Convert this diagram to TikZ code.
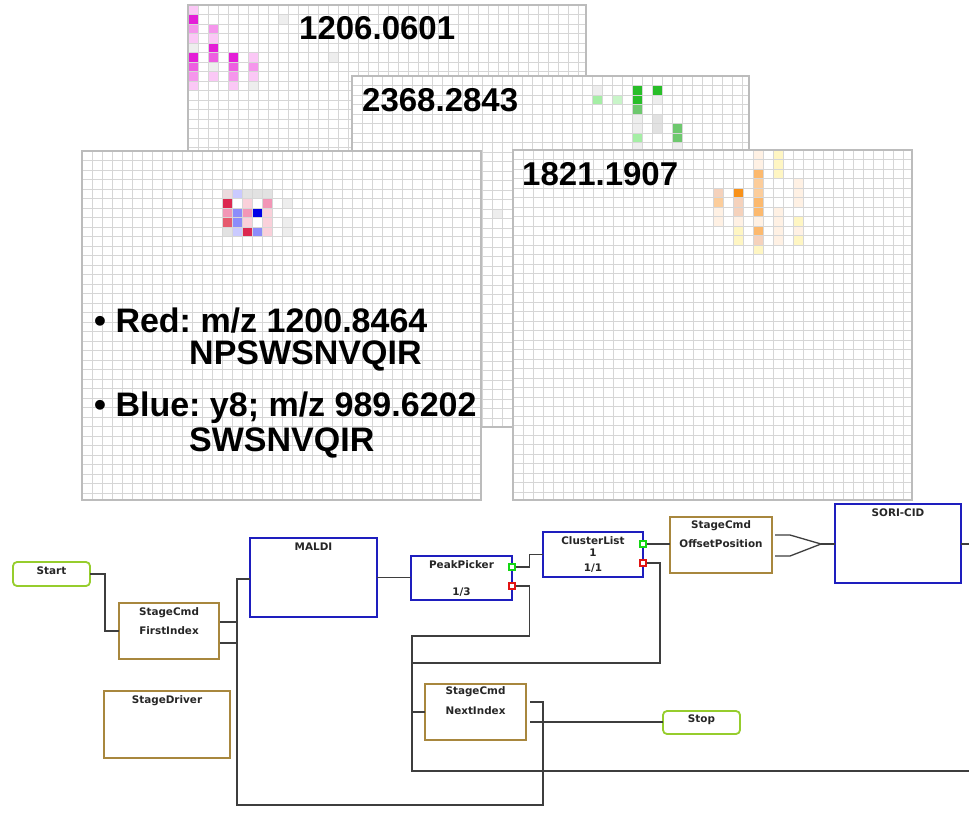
\documentclass[tikz,border=0pt]{standalone}
\usepackage{fontspec}
\setmainfont{Liberation Sans}
\newfontfamily\uifont{DejaVu Sans}
\usetikzlibrary{calc}

\definecolor{gridc}{RGB}{214,214,214}
\definecolor{gridbc}{RGB}{188,188,188}
\definecolor{wirec}{RGB}{62,62,62}
\definecolor{boxblue}{RGB}{30,30,190}
\definecolor{boxtan}{RGB}{168,135,62}
\definecolor{termgreen}{RGB}{150,205,45}
\definecolor{portgreen}{RGB}{20,215,20}
\definecolor{portred}{RGB}{225,20,20}
% cell colours
\definecolor{magS}{RGB}{228,30,215}
\definecolor{magM}{RGB}{238,95,225}
\definecolor{pinkM}{RGB}{245,150,236}
\definecolor{pinkL}{RGB}{251,200,246}
\definecolor{grayVL}{RGB}{238,238,238}
\definecolor{grayL}{RGB}{226,226,226}
\definecolor{greenS}{RGB}{40,190,40}
\definecolor{greenM}{RGB}{110,200,110}
\definecolor{greenL}{RGB}{165,238,165}
\definecolor{orangeS}{RGB}{248,145,25}
\definecolor{orangeM}{RGB}{252,185,110}
\definecolor{orangeL}{RGB}{252,205,155}
\definecolor{peach}{RGB}{245,210,188}
\definecolor{cream}{RGB}{255,241,228}
\definecolor{yellowL}{RGB}{255,246,195}
\definecolor{crimson}{RGB}{220,40,80}
\definecolor{redM}{RGB}{230,90,110}
\definecolor{pinkCM}{RGB}{242,150,182}
\definecolor{pinkCL}{RGB}{250,208,218}
\definecolor{pinkG}{RGB}{236,218,222}
\definecolor{blueS}{RGB}{0,0,230}
\definecolor{blueM}{RGB}{140,140,250}
\definecolor{blueL}{RGB}{202,202,255}

\newcommand\gpanel[5]{%
 \begin{scope}[shift={(#1,#2)}]
 \fill[white] (0,0) rectangle (#3,#4);
 #5
 \pgfmathtruncatemacro\gpnx{#3/10}
 \pgfmathtruncatemacro\gpny{#4/9.5}
 \foreach \gpi in {1,...,\gpnx} {\draw[gridl] (10*\gpi,0) -- (10*\gpi,#4);}
 \foreach \gpj in {1,...,\gpny} {\draw[gridl] (0,9.5*\gpj) -- (#3,9.5*\gpj);}
 \draw[gridb] (0,0) rectangle (#3,#4);
 \end{scope}}
\newcommand\gc[3]{\fill[#1] (10*#2,9.5*#3) rectangle ++(10,9.5);}
\frenchspacing

\begin{document}
\begin{tikzpicture}[x=1pt,y=-1pt,
 gridl/.style={draw=gridc, line width=0.6pt},
 gridb/.style={draw=gridbc, line width=1.2pt},
 blk/.style={draw=boxblue, line width=2pt, fill=white, inner sep=0pt, outer sep=0pt, anchor=north west},
 stg/.style={blk, draw=boxtan},
 term/.style={blk, draw=termgreen, rounded corners=4pt, line width=1.8pt},
 lbl/.style={font=\uifont\bfseries\fontsize{10.4}{12}\selectfont, inner sep=0pt, text=black!85},
 wire/.style={draw=wirec, line width=1.3pt},
 portg/.style={draw=portgreen, fill=white, line width=1.5pt, minimum size=6pt, inner sep=0pt},
 portr/.style={portg, draw=portred},
 big/.style={font=\bfseries\fontsize{33}{36}\selectfont, inner sep=0pt, anchor=base west},
 bigl/.style={big, font=\frenchspacing\bfseries\fontsize{34}{38}\selectfont}]
\useasboundingbox (0,0) rectangle (969,817);
\fill[white] (0,0) rectangle (969,817);

% ---------- panel 1206.0601 ----------
\gpanel{188}{5}{398}{422}{%
 \gc{pinkL}{0}{0}\gc{magS}{0}{1}\gc{pinkM}{0}{2}\gc{pinkL}{0}{3}\gc{grayVL}{0}{4}\gc{magS}{0}{5}\gc{magM}{0}{6}\gc{pinkM}{0}{7}\gc{pinkL}{0}{8}
 \gc{pinkM}{2}{2}\gc{pinkL}{2}{3}\gc{magS}{2}{4}\gc{magM}{2}{5}\gc{grayVL}{2}{6}\gc{pinkL}{2}{7}
 \gc{magS}{4}{5}\gc{magM}{4}{6}\gc{pinkM}{4}{7}\gc{pinkL}{4}{8}
 \gc{pinkL}{6}{5}\gc{pinkM}{6}{6}\gc{pinkL}{6}{7}\gc{grayVL}{6}{8}
 \gc{grayVL}{9}{1}\gc{grayVL}{14}{5}}
\node[big] (t1206) at (299,39) {1206.0601};

% ---------- panel 2368.2843 ----------
\gpanel{352}{76}{397}{351}{%
 \gc{grayVL}{24}{1}\gc{greenL}{24}{2}\gc{greenL!60!white}{26}{2}
 \gc{greenS}{28}{1}\gc{greenS}{28}{2}\gc{greenM}{28}{3}\gc{grayVL}{28}{4}\gc{grayVL}{28}{5}\gc{greenL}{28}{6}\gc{grayVL}{28}{7}
 \gc{greenS}{30}{1}\gc{grayVL}{30}{2}\gc{grayL}{30}{4}\gc{grayL}{30}{5}
 \gc{greenM}{32}{5}\gc{greenM}{32}{6}\gc{grayVL}{32}{7}
 \gc{grayVL}{14}{14}}
\node[big] (t2368) at (362,111) {2368.2843};

% ---------- left panel (red / blue) ----------
\gpanel{82}{151}{399}{349}{%
 \gc{pinkG}{14}{4}\gc{blueL}{15}{4}\gc{grayL}{16}{4}\gc{grayL}{17}{4}\gc{grayL}{18}{4}
 \gc{crimson}{14}{5}\gc{pinkCL}{16}{5}\gc{pinkCM}{18}{5}\gc{grayVL}{20}{5}
 \gc{pinkCM}{14}{6}\gc{blueM}{15}{6}\gc{pinkCM}{16}{6}\gc{blueS}{17}{6}\gc{pinkCL}{18}{6}
 \gc{redM}{14}{7}\gc{blueM}{15}{7}\gc{pinkCL}{16}{7}\gc{pinkCL}{18}{7}\gc{grayVL}{20}{7}
 \gc{grayL}{14}{8}\gc{blueL}{15}{8}\gc{crimson}{16}{8}\gc{blueM}{17}{8}\gc{pinkCL}{18}{8}\gc{grayVL}{20}{8}}
\node[bigl] (tred) at (94,332) {• Red: m/z 1200.8464};
\node[bigl] (tredseq) at (189,364) {NPSWSNVQIR};
\node[bigl] (tblue) at (94,416) {• Blue: y8; m/z 989.6202};
\node[bigl] (tblueseq) at (189,451) {SWSNVQIR};

% ---------- right panel 1821.1907 ----------
\gpanel{513}{150}{399}{350}{%
 \gc{peach}{20}{4}\gc{orangeL}{20}{5}\gc{cream}{20}{6}\gc{cream}{20}{7}
 \gc{orangeS}{22}{4}\gc{peach}{22}{5}\gc{peach}{22}{6}\gc{cream}{22}{7}\gc{yellowL}{22}{8}\gc{yellowL}{22}{9}
 \gc{cream}{24}{0}\gc{cream}{24}{1}\gc{orangeM}{24}{2}\gc{orangeL}{24}{3}\gc{orangeL}{24}{4}\gc{orangeM}{24}{5}\gc{orangeM}{24}{6}\gc{cream}{24}{7}\gc{orangeM}{24}{8}\gc{peach}{24}{9}\gc{yellowL}{24}{10}
 \gc{yellowL}{26}{0}\gc{yellowL}{26}{1}\gc{yellowL}{26}{2}\gc{cream}{26}{6}\gc{cream}{26}{7}\gc{cream}{26}{8}\gc{cream}{26}{9}
 \gc{cream}{28}{3}\gc{cream}{28}{4}\gc{cream}{28}{5}\gc{yellowL}{28}{7}\gc{cream}{28}{8}\gc{yellowL}{28}{9}}
\node[big] (t1821) at (522,185) {1821.1907};

% ---------- flowchart boxes ----------
\node[term, minimum width=77pt, minimum height=24pt] (start) at (13,562) {};
\node[lbl] at ($(start.north)+(0,9)$) {Start};
\node[stg, minimum width=100pt, minimum height=56pt] (first) at (119,603) {};
\node[lbl] at ($(first.north)+(0,10)$) {StageCmd};
\node[lbl] at ($(first.north)+(0,28)$) {FirstIndex};
\node[blk, minimum width=127pt, minimum height=79pt] (maldi) at (250,538) {};
\node[lbl] at ($(maldi.north)+(0,9)$) {MALDI};
\node[blk, minimum width=101pt, minimum height=44pt] (peak) at (411,556) {};
\node[lbl] at ($(peak.north)+(0,9)$) {PeakPicker};
\node[lbl] at ($(peak.north)+(0,36)$) {1/3};
\node[blk, minimum width=100pt, minimum height=45pt] (clus) at (543,532) {};
\node[lbl] at ($(clus.north)+(0,9)$) {ClusterList};
\node[lbl] at ($(clus.north)+(0,21)$) {1};
\node[lbl] at ($(clus.north)+(0,36)$) {1/1};
\node[stg, minimum width=102pt, minimum height=56pt] (offs) at (670,517) {};
\node[lbl] at ($(offs.north)+(0,9)$) {StageCmd};
\node[lbl] at ($(offs.north)+(0,27)$) {OffsetPosition};
\node[blk, minimum width=126pt, minimum height=79pt] (sori) at (835,504) {};
\node[lbl] at ($(sori.north)+(0,9)$) {SORI-CID};
\node[stg, minimum width=126pt, minimum height=67pt] (drv) at (104,691) {};
\node[lbl] at ($(drv.north)+(0,10)$) {StageDriver};
\node[stg, minimum width=101pt, minimum height=56pt] (next) at (425,684) {};
\node[lbl] at ($(next.north)+(0,8)$) {StageCmd};
\node[lbl] at ($(next.north)+(0,27)$) {NextIndex};
\node[term, minimum width=77pt, minimum height=23pt] (stop) at (663,711) {};
\node[lbl] at ($(stop.north)+(0,9)$) {Stop};

% ports
\node[portg] (peakG) at ($(peak.north east)+(0,11)$) {};
\node[portr] (peakR) at ($(peak.north east)+(0,30)$) {};
\node[portg] (clusG) at ($(clus.north east)+(0,12)$) {};
\node[portr] (clusR) at ($(clus.north east)+(0,31)$) {};

% ---------- connectors ----------
\coordinate (mIn) at ($(maldi.north west)+(0,41)$);
\coordinate (busB) at (412,636);
\coordinate (busC) at (412,663);
\coordinate (busE) at (412,771);
\coordinate (rEdge) at (969,771);
\coordinate (mrg) at (821,544);
\coordinate (nOut) at ($(next.north east)+(4,38)$);

\draw[wire] (start.east) -- ++(15,0) |- (first.west);
\draw[wire] ($(first.north east)+(1,19)$) -- ++(17,0);
\draw[wire] ($(first.north east)+(1,40)$) -- ++(17,0);
\draw[wire] (mIn) -| (237,805) -| (543,702) -- ($(next.north east)+(4,18)$);
\draw[wire] (maldi.east) -- (maldi.east -| peak.west);
\draw[wire] (peakG.east) -- ++(14,0) |- (clus.west);
\draw[wire] (peakR.east) -- ++(14,0) |- (busB) -- (busE) -- (rEdge);
\draw[wire] (clusR.east) -| (660,663) -- (busC);
\draw[wire] (next.west) -- (next.west -| busB);
\draw[wire] (nOut) -- (nOut -| stop.west);
\draw[wire] (clusG.east) -- (clusG.east -| offs.west);
\draw[wire] ($(offs.north east)+(3,18)$) -- ++(15,0) -- (mrg);
\draw[wire] ($(offs.north east)+(3,39)$) -- ++(15,0) -- (mrg);
\draw[wire] (mrg) -- (mrg -| sori.west);
\draw[wire] (sori.east |- mrg) -- (969,544);
\end{tikzpicture}
\end{document}
